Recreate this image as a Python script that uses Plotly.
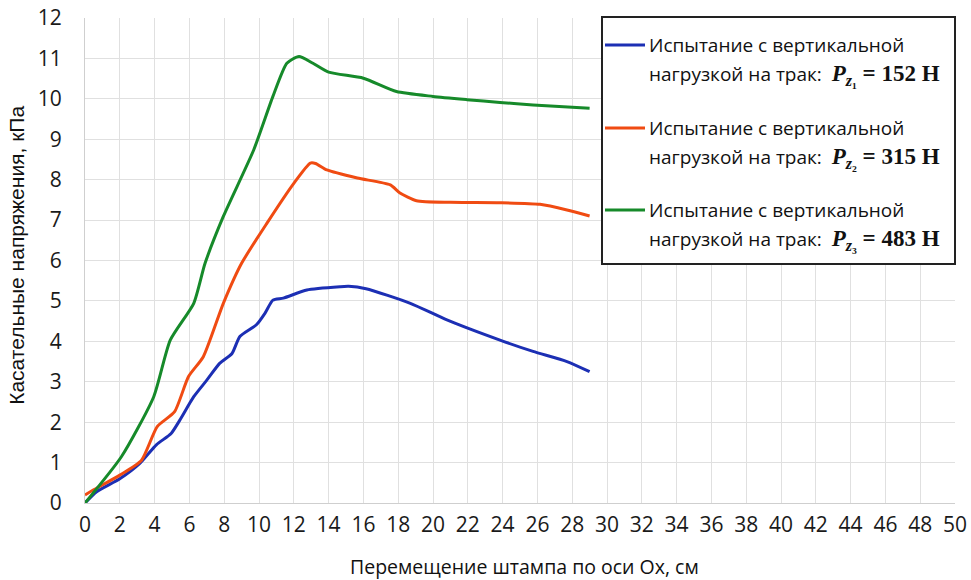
import plotly.graph_objects as go

# Displacement of the stamp (cm) and tangential stress (kPa) for three vertical loads
x_152 = [0, 0.67, 2.0, 3.15, 4.1, 4.95, 5.45, 6.25, 7.0, 7.75, 8.45, 8.9, 9.85, 10.35, 10.8,
         11.4, 12.75, 14.65, 15.15, 16.15, 18.7, 20.8, 23.85, 25.75, 27.7, 29.0]
y_152 = [0, 0.28, 0.6, 0.98, 1.44, 1.72, 2.05, 2.63, 3.04, 3.46, 3.7, 4.12, 4.41, 4.7, 5.02,
         5.07, 5.27, 5.35, 5.36, 5.3, 4.94, 4.53, 4.03, 3.75, 3.5, 3.25]

x_315 = [0, 0.47, 2.0, 3.25, 4.15, 5.15, 5.95, 6.8, 7.95, 9.0, 10.45, 12.0, 12.95, 13.25, 13.9,
         15.65, 17.55, 18.1, 19.05, 21.0, 23.85, 26.15, 27.7, 29.0]
y_315 = [0.2, 0.32, 0.69, 1.06, 1.89, 2.26, 3.13, 3.62, 4.94, 5.93, 6.92, 7.91, 8.41, 8.4, 8.24,
         8.04, 7.87, 7.67, 7.48, 7.44, 7.43, 7.39, 7.25, 7.1]

x_483 = [0, 2.1, 3.95, 4.9, 6.25, 6.9, 7.95, 9.7, 10.8, 11.6, 12.3, 13.1, 14.0, 16.0,
         17.9, 20.0, 21.95, 23.85, 25.75, 29.0]
y_483 = [0, 1.15, 2.63, 4.03, 4.94, 5.93, 7.09, 8.74, 10.06, 10.88, 11.05, 10.88, 10.66, 10.51,
         10.18, 10.06, 9.98, 9.91, 9.85, 9.77]

loads = ["152", "315", "483"]
subs = ["₁", "₂", "₃"]
series_colors = ["#1c2fb4", "#f04b12", "#168a2a"]

x_ticks = list(range(0, 51, 2))
y_ticks = list(range(0, 13, 1))

x_title = "Перемещение штампа по оси Ox, см"
y_title = "Касательные напряжения, кПа"
legend_line1 = "Испытание с вертикальной"
legend_line2 = "нагрузкой на трак:"

W, H = 971, 580
M_L, M_R, M_T, M_B = 85, 16, 18, 77
PLOT_W, PLOT_H = W - M_L - M_R, H - M_T - M_B


def px(xp):
    """Horizontal pixel position -> paper fraction."""
    return (xp - M_L) / PLOT_W


def py(yp):
    """Vertical pixel position (from top) -> paper fraction."""
    return (H - M_B - yp) / PLOT_H


MATH = "font-family:'Liberation Serif',serif;font-size:23px"

fig = go.Figure()
for xs, ys, color in zip([x_152, x_315, x_483], [y_152, y_315, y_483], series_colors):
    fig.add_trace(go.Scatter(
        x=xs, y=ys, mode="lines", showlegend=False,
        line=dict(color=color, width=3, shape="spline", smoothing=0.6),
    ))

# Framed key in the upper right corner
shapes = [dict(type="rect", xref="paper", yref="paper",
               x0=px(602), x1=px(955), y0=py(264), y1=py(17),
               fillcolor="white", line=dict(color="#222222", width=2), layer="above")]
annotations = []
entry_tops = [45, 128, 210]
for i, y0 in enumerate(entry_tops):
    shapes.append(dict(type="line", xref="paper", yref="paper",
                       x0=px(605), x1=px(645), y0=py(y0), y1=py(y0),
                       line=dict(color=series_colors[i], width=3), layer="above"))
    annotations.append(dict(text=legend_line1, xref="paper", yref="paper",
                            x=px(647), y=py(y0), xanchor="left", yanchor="middle",
                            showarrow=False, font=dict(size=19, color="#111111")))
    annotations.append(dict(
        text=(f"{legend_line2}  <span style=\"{MATH}\"><b><i>P</i><sub><i>z</i>{subs[i]}</sub>"
              f" = {loads[i]} Н</b></span>"),
        xref="paper", yref="paper", x=px(647), y=py(y0 + 30), xanchor="left", yanchor="middle",
        showarrow=False, font=dict(size=19, color="#111111")))

annotations += [
    dict(text=x_title, xref="paper", yref="paper", x=0.505, y=-0.13,
         xanchor="center", yanchor="middle", showarrow=False,
         font=dict(size=19.5, color="#111111")),
    dict(text=y_title, xref="paper", yref="paper", x=-0.078, y=0.51,
         xanchor="center", yanchor="middle", showarrow=False, textangle=-90,
         font=dict(family="Liberation Sans, Arial, sans-serif", size=21, color="#111111")),
]

fig.update_layout(
    width=W, height=H,
    margin=dict(l=M_L, r=M_R, t=M_T, b=M_B),
    plot_bgcolor="white", paper_bgcolor="white",
    font=dict(family="Open Sans, sans-serif", color="#1a1a1a", size=19),
    showlegend=False,
    shapes=shapes,
    annotations=annotations,
)
fig.update_xaxes(
    range=[0, 50], tickvals=x_ticks, showgrid=True, gridcolor="#e0e0e0", gridwidth=1,
    showline=True, linecolor="#cfcfcf", zeroline=False, ticks="", automargin=False,
    tickfont=dict(size=21), ticklabelstandoff=3,
)
fig.update_yaxes(
    range=[0, 12], tickvals=y_ticks, showgrid=True, gridcolor="#e0e0e0", gridwidth=1,
    showline=True, linecolor="#cfcfcf", zeroline=False, ticks="", automargin=False,
    tickfont=dict(size=21), ticklabelstandoff=18,
)

fig.write_html("out.html")
